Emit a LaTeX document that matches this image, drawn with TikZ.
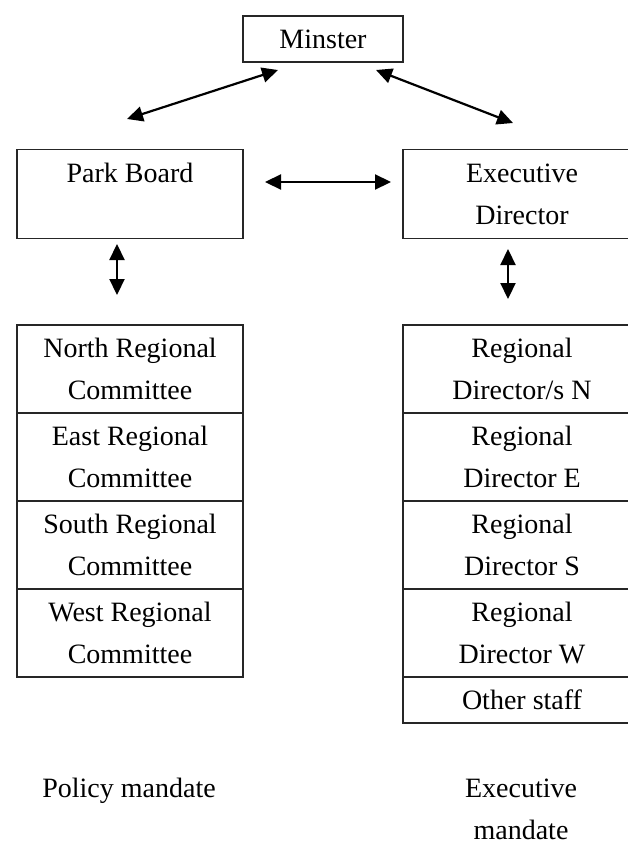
\documentclass[tikz,border=0pt]{standalone}
\usepackage{fontspec}
\setmainfont{Liberation Serif}
\usetikzlibrary{arrows.meta}
\begin{document}
\begin{tikzpicture}[x=1pt,y=-1pt,
  every node/.style={font=\fontsize{28}{42}\selectfont, inner sep=0pt, align=center},
  box/.style={draw=black!85, line width=1.3pt, rectangle},
  link/.style={line width=2.2pt, {Triangle[length=16pt,width=15pt]}-{Triangle[length=16pt,width=15pt]}}]
\clip (0,0) rectangle (628,843);
\fill[white] (0,0) rectangle (628,843);
% top boxes
\node[box, minimum width=160pt, minimum height=46pt] (min) at (323,39) {Minster};
\node[box, minimum width=226pt, minimum height=89pt] (pb) at (130,194) {Park Board\\~};
\node[box, minimum width=238pt, minimum height=89pt] (ed) at (522,194) {Executive\\Director};
% left stack
\node[box, minimum width=226pt, minimum height=88pt] (nrc) at (130,369) {North Regional\\Committee};
\node[box, minimum width=226pt, minimum height=88pt] (erc) at (130,457) {East Regional\\Committee};
\node[box, minimum width=226pt, minimum height=88pt] (src) at (130,545) {South Regional\\Committee};
\node[box, minimum width=226pt, minimum height=88pt] (wrc) at (130,633) {West Regional\\Committee};
% right stack
\node[box, minimum width=238pt, minimum height=88pt] (rdn) at (522,369) {Regional\\Director/s N};
\node[box, minimum width=238pt, minimum height=88pt] (rde) at (522,457) {Regional\\Director E};
\node[box, minimum width=238pt, minimum height=88pt] (rds) at (522,545) {Regional\\Director S};
\node[box, minimum width=238pt, minimum height=46pt] (os) at (522,700) {Other staff};
\node[box, minimum width=238pt, minimum height=88pt] (rdw) at (522,633) {Regional\\Director W};
% bottom labels
\node (pm) at (129,791) {Policy mandate};
\node (em) at (521,809) {Executive\\mandate};
% arrow end points
\coordinate (a1) at (127,119);
\coordinate (a2) at (278,70);
\coordinate (b1) at (376,70);
\coordinate (b2) at (513,123);
\coordinate (c1) at (265,182);
\coordinate (c2) at (391,182);
\coordinate (d1) at (117,244);
\coordinate (d2) at (117,295);
\coordinate (e1) at (508,249);
\coordinate (e2) at (508,299);
\draw[link] (a1) -- (a2);
\draw[link] (b1) -- (b2);
\draw[link] (c1) -- (c2);
\draw[link] (d1) -- (d2);
\draw[link] (e1) -- (e2);
\end{tikzpicture}
\end{document}
